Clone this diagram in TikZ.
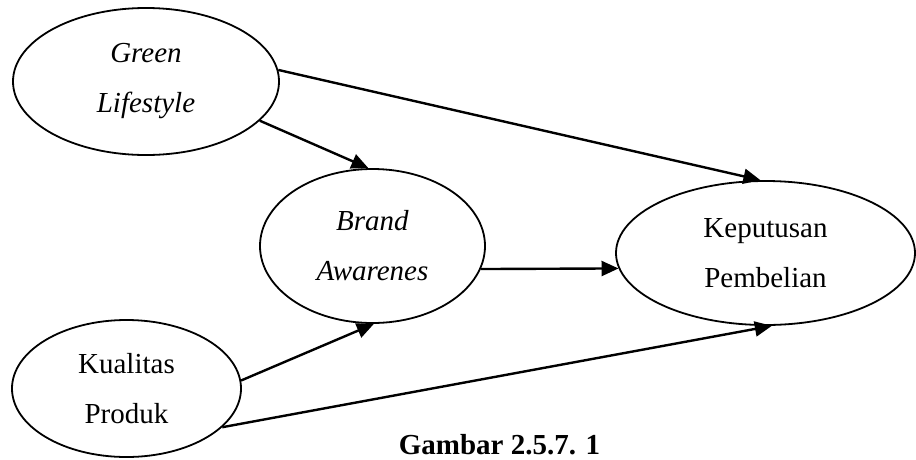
\documentclass[tikz,border=0pt]{standalone}
\usepackage{fontspec}
\setmainfont{Liberation Serif}
\usetikzlibrary{shapes.geometric,arrows.meta}

\begin{document}
\begin{tikzpicture}[x=1pt,y=-1pt,
    main node/.style={draw,ellipse,line width=1.8pt,inner sep=0pt,align=center,
      font=\fontsize{29}{50}\selectfont}]
    \useasboundingbox (0,0) rectangle (916,459);

    \node[main node,minimum width=266pt,minimum height=147pt] (1) at (146,81.5) {\textit{Green}\\\textit{Lifestyle}};
    \node[main node,minimum width=225pt,minimum height=154pt] (2) at (372.5,246) {\textit{Brand}\\\textit{Awarenes}};
    \node[main node,minimum width=299pt,minimum height=144pt] (3) at (765.5,253) {Keputusan\\Pembelian};
    \node[main node,minimum width=229pt,minimum height=137pt] (4) at (126.5,388.5) {Kualitas\\Produk};

    \node[font=\bfseries\fontsize{29}{35}\selectfont,anchor=base] (5) at (499.5,454) {Gambar 2.5.7. 1};


    \path[every edge/.style={draw,line width=2.4pt,-{Triangle[length=17pt,width=15pt]}}]
    (1.5) edge (3.94)
    (1.-19) edge (2.93)
    (2.-12) edge (3.186)
    (4.4) edge (2.-89)
    (4.-22) edge (3.-85);
  \end{tikzpicture}
\end{document}
